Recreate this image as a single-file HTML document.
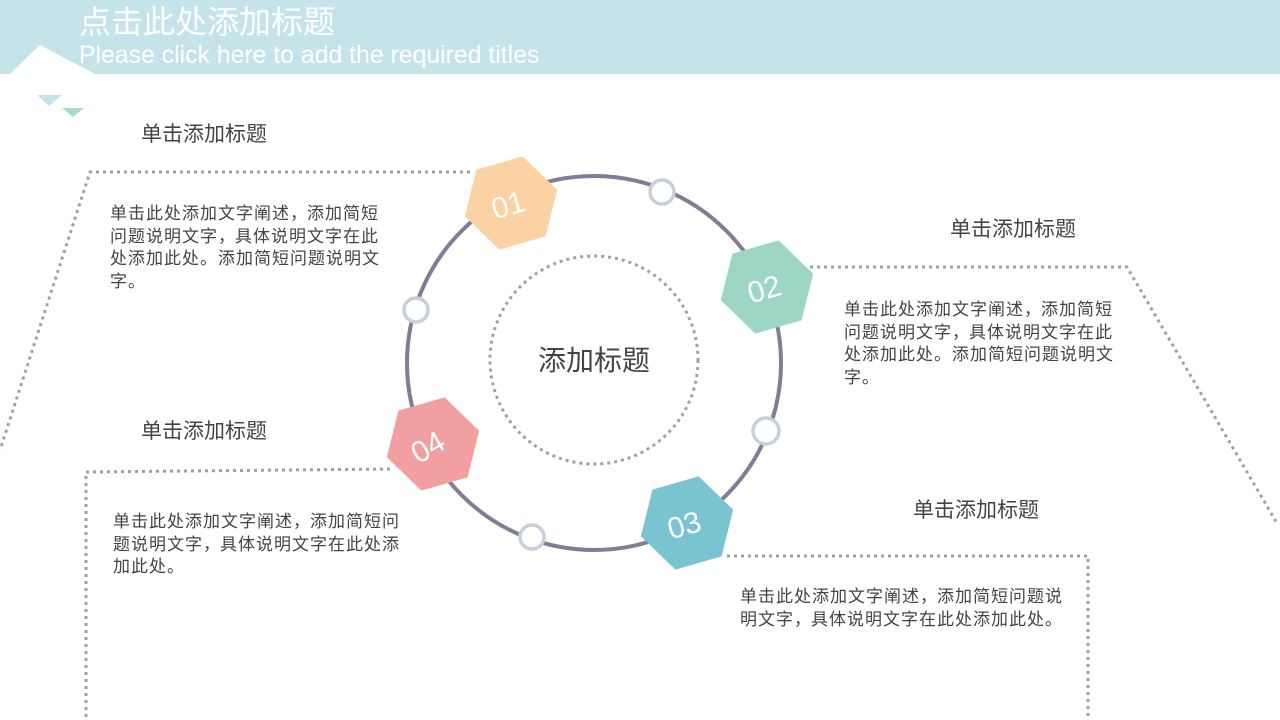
<!DOCTYPE html>
<html><head><meta charset="utf-8"><style>
body{margin:0;width:1280px;height:720px;position:relative;overflow:hidden;background:#fff;font-family:"Liberation Sans","Noto Sans CJK SC",sans-serif;}
.t{position:absolute;color:#444;font-size:17px;line-height:22.5px;white-space:nowrap;letter-spacing:1px}
.t i{font-style:normal;display:inline-block;width:17px;text-align:center}
.h{position:absolute;color:#444;font-size:21px;line-height:26px}
</style></head><body>
<svg width="1280" height="720" style="position:absolute;left:0;top:0">
<defs><polygon id="hx" points="0,-48 41.6,-24 41.6,24 0,48 -41.6,24 -41.6,-24"/></defs>
<rect x="0" y="0" width="1280" height="74" fill="#c5e4ea"/>
<polygon points="10,74 40,45 95,74 80,88" fill="#fff"/>
<polygon points="37,95 62,95 49,106" fill="#c5e4ea"/>
<polygon points="62,108 84,108 73,117" fill="#a9dccd"/>
<g fill="none" stroke="#a0a0a0" stroke-width="3" stroke-dasharray="3 4">
<polyline points="470,172 90,172 0,450"/>
<polyline points="810,267 1127,267 1278,525"/>
<polyline points="727,556 1088,556 1088,720"/>
<polyline points="390,469 86,472 86,720"/>
<circle cx="594" cy="360" r="104"/>
</g>
<circle cx="594" cy="363" r="187" fill="none" stroke="#827c96" stroke-width="4"/>
<g fill="#fff" stroke="#c5d0da" stroke-width="3.5">
<circle cx="662" cy="192" r="12"/><circle cx="416" cy="310" r="12"/>
<circle cx="766" cy="431" r="13"/><circle cx="532" cy="537" r="12"/>
</g>
<use href="#hx" transform="translate(511,203) rotate(14)" fill="#fad2a4"/>
<use href="#hx" transform="translate(767,287) rotate(14)" fill="#9dd6c5"/>
<use href="#hx" transform="translate(687,523) rotate(14)" fill="#79c4d0"/>
<use href="#hx" transform="translate(433,444) rotate(14)" fill="#f19fa0"/>
<g fill="#fff" font-family="Liberation Sans,sans-serif" font-size="30" text-anchor="middle">
<text transform="translate(511,215) rotate(-16)">01</text>
<text transform="translate(767,299) rotate(-16)">02</text>
<text transform="translate(687,535) rotate(-16)">03</text>
<text transform="translate(433,456) rotate(-30)">04</text>
</g>
<text x="594" y="370" text-anchor="middle" font-size="28" fill="#444" font-family="Liberation Sans,Noto Sans CJK SC,sans-serif">添加标题</text>
</svg>
<div style="position:absolute;left:79px;top:3px;color:#fff;font-size:32px;line-height:38px">点击此处添加标题</div>
<div style="position:absolute;left:79px;top:41px;color:#fff;font-size:24.8px;line-height:29px">Please click here to add the required titles</div>
<div class="h" style="left:141px;top:122px">单击添加标题</div>
<div class="t" style="left:110px;top:203px">单击此处添加文字阐述<i>，</i>添加简短<br>问题说明文字<i>，</i>具体说明文字在此<br>处添加此处。添加简短问题说明文<br>字。</div>
<div class="h" style="left:950px;top:217px">单击添加标题</div>
<div class="t" style="left:844px;top:299px">单击此处添加文字阐述<i>，</i>添加简短<br>问题说明文字<i>，</i>具体说明文字在此<br>处添加此处。添加简短问题说明文<br>字。</div>
<div class="h" style="left:141px;top:419px">单击添加标题</div>
<div class="t" style="left:113px;top:511px">单击此处添加文字阐述<i>，</i>添加简短问<br>题说明文字<i>，</i>具体说明文字在此处添<br>加此处。</div>
<div class="h" style="left:913px;top:498px">单击添加标题</div>
<div class="t" style="left:740px;top:586px">单击此处添加文字阐述<i>，</i>添加简短问题说<br>明文字<i>，</i>具体说明文字在此处添加此处。</div>
</body></html>
